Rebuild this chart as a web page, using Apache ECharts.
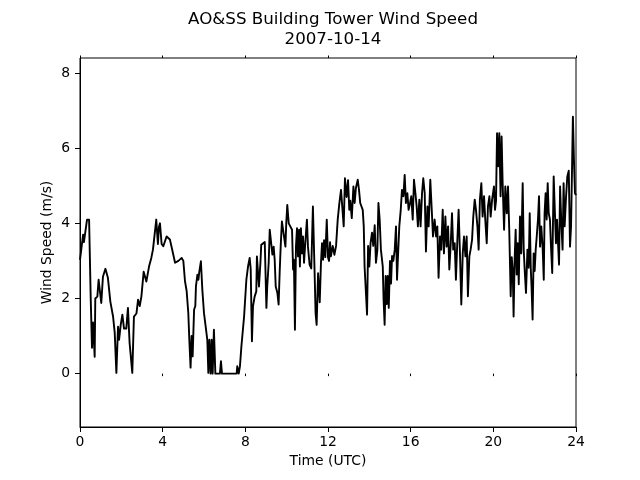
<!DOCTYPE html>
<html>
<head>
<meta charset="utf-8">
<script src="https://cdn.jsdelivr.net/npm/echarts@6/dist/echarts.min.js"></script>
<style>html,body{margin:0;padding:0;background:#fff}#c{width:640px;height:480px}</style>
</head>
<body>
<div id="c"></div>
<script>
const chartTitle = 'AO&SS Building Tower Wind Speed\n2007-10-14';
const xLabel = 'Time (UTC)';
const yLabel = 'Wind Speed (m/s)';
const xTicks = [0, 4, 8, 12, 16, 20, 24];
const yTicks = [0, 2, 4, 6, 8];

const times = [
0.00,0.15,0.19,0.34,0.44,0.52,0.58,0.63,0.71,0.74,0.84,0.90,0.97,1.03,1.11,1.23,1.35,1.47,1.60,1.68,
1.76,1.84,1.89,1.97,2.05,2.13,2.24,2.32,2.40,2.53,2.61,2.73,2.81,2.89,2.97,3.08,3.21,3.34,3.45,3.53,
3.61,3.69,3.77,3.82,3.87,3.95,4.03,4.11,4.19,4.27,4.35,4.44,4.52,4.60,4.68,4.76,4.84,4.92,5.00,5.08,
5.16,5.24,5.29,5.35,5.40,5.45,5.52,5.58,5.61,5.68,5.73,5.77,5.85,5.92,6.00,6.08,6.16,6.21,6.26,6.32,
6.37,6.42,6.48,6.55,6.77,6.82,6.87,7.58,7.61,7.68,7.74,7.81,7.87,7.94,8.05,8.13,8.21,8.26,8.32,8.37,
8.45,8.53,8.56,8.61,8.66,8.73,8.77,8.85,8.94,9.02,9.06,9.13,9.18,9.26,9.31,9.37,9.42,9.47,9.55,9.61,
9.66,9.71,9.77,9.85,9.94,9.98,10.03,10.10,10.18,10.26,10.31,10.35,10.40,10.45,10.50,10.55,10.60,10.64,10.69,10.74,
10.79,10.84,10.90,10.98,11.03,11.11,11.19,11.27,11.34,11.40,11.45,11.52,11.60,11.66,11.71,11.76,11.81,11.87,11.94,12.00,
12.05,12.10,12.14,12.23,12.31,12.39,12.47,12.55,12.63,12.71,12.76,12.82,12.90,12.97,13.03,13.08,13.15,13.23,13.29,13.35,
13.44,13.50,13.56,13.63,13.68,13.73,13.77,13.82,13.89,13.94,14.00,14.06,14.13,14.19,14.26,14.32,14.39,14.44,14.50,14.56,
14.65,14.69,14.74,14.79,14.84,14.89,14.94,15.00,15.05,15.10,15.16,15.23,15.29,15.34,15.40,15.45,15.52,15.58,15.65,15.71,
15.77,15.84,15.90,15.97,16.03,16.10,16.16,16.23,16.29,16.35,16.42,16.48,16.55,16.61,16.68,16.74,16.81,16.87,16.95,17.02,
17.08,17.16,17.23,17.29,17.35,17.42,17.48,17.55,17.61,17.68,17.74,17.81,17.87,17.94,18.00,18.06,18.13,18.19,18.26,18.32,
18.39,18.45,18.52,18.58,18.65,18.71,18.77,18.84,18.90,18.97,19.03,19.10,19.16,19.23,19.29,19.35,19.42,19.48,19.55,19.61,
19.68,19.74,19.81,19.87,19.94,20.03,20.08,20.13,20.18,20.24,20.29,20.35,20.40,20.45,20.52,20.58,20.65,20.71,20.77,20.84,
20.89,20.94,20.98,21.03,21.08,21.13,21.18,21.23,21.29,21.35,21.42,21.47,21.52,21.58,21.65,21.71,21.76,21.81,21.85,21.90,
21.95,22.00,22.05,22.10,22.16,22.21,22.26,22.32,22.39,22.44,22.48,22.53,22.58,22.63,22.68,22.74,22.79,22.85,22.92,22.98,
23.03,23.08,23.13,23.18,23.23,23.29,23.35,23.40,23.45,23.52,23.58,23.65,23.71,23.76,23.81,23.85,23.90,23.95,24.00
];

const speeds = [
3.03,3.70,3.50,4.10,4.10,1.97,0.69,1.36,0.45,2.00,2.05,2.50,2.55,1.88,2.58,2.79,2.55,1.91,1.52,1.09,
0.02,1.25,0.90,1.30,1.57,1.20,1.20,1.75,0.82,0.02,1.52,1.60,1.97,1.80,2.05,2.71,2.45,2.85,3.08,3.30,
3.35,4.10,3.45,3.90,4.00,3.45,3.39,3.35,3.65,3.70,3.57,3.35,3.30,2.95,2.95,3.00,3.03,3.08,3.00,2.46,
2.20,1.62,0.90,0.16,1.00,0.46,1.70,1.80,2.32,2.63,2.50,2.70,2.99,2.23,1.61,1.26,0.90,0.02,0.90,0.00,
0.90,0.00,1.17,0.00,0.00,0.33,0.00,0.00,0.20,0.00,0.20,0.73,0.73,1.52,2.50,2.85,3.08,2.78,0.86,1.79,
2.05,2.19,3.12,3.10,2.32,2.95,3.43,3.47,3.50,1.75,2.32,2.95,3.83,3.83,3.17,3.38,3.03,2.32,2.15,1.84,
2.67,3.38,4.05,4.00,3.38,4.00,4.49,4.00,4.05,3.83,2.77,3.03,1.17,3.38,3.87,3.12,3.83,2.85,3.87,3.20,
3.65,2.95,3.47,4.10,3.38,2.90,2.80,4.45,2.95,1.60,1.30,2.67,1.90,2.95,3.47,3.03,3.55,3.10,4.10,3.10,
3.00,3.50,3.12,3.40,3.16,3.40,4.10,4.54,4.89,4.85,3.92,5.20,4.70,5.15,4.36,4.60,4.14,4.98,4.54,4.94,
5.16,4.89,4.54,4.58,4.36,3.92,2.85,2.85,1.57,3.40,2.85,3.48,3.75,3.40,3.95,2.95,3.30,4.54,4.10,3.30,
2.85,1.97,1.30,2.60,1.85,2.60,1.75,3.00,2.40,3.13,3.00,3.30,3.92,2.50,3.30,3.92,4.36,4.89,4.72,5.29,
4.54,4.80,4.36,4.54,4.72,4.10,5.16,4.80,4.45,3.92,4.63,3.92,4.80,5.20,4.80,3.25,4.45,3.92,5.16,4.36,
3.65,4.10,3.65,3.92,2.55,3.65,3.30,4.36,3.20,4.18,3.38,3.92,2.77,3.47,4.27,3.30,3.47,2.50,3.56,4.36,
3.12,1.84,3.20,3.65,3.12,3.65,2.06,3.12,3.30,3.56,4.18,4.63,4.36,3.92,3.30,4.63,5.07,4.18,4.72,4.10,
3.47,4.45,4.72,4.18,4.63,4.98,4.36,4.60,6.40,5.52,6.40,4.72,6.31,5.07,3.83,4.98,4.27,4.98,3.83,2.06,
3.10,2.73,1.52,3.03,3.83,2.64,3.47,2.38,4.18,3.20,5.07,3.30,2.73,2.15,3.30,2.82,4.27,2.82,2.30,1.44,
3.20,2.73,3.30,3.65,4.10,4.72,3.38,3.92,3.30,2.50,4.27,4.80,4.10,5.07,4.27,4.10,3.38,2.68,5.25,4.27,
3.47,4.10,3.47,2.90,4.98,4.00,3.30,5.07,3.92,4.72,5.25,5.40,3.38,3.92,5.52,6.84,5.70,4.80,4.75
];

const seriesData = times.map((t, i) => [t, speeds[i]]);
const FONT = 'DejaVu Sans';
const chart = echarts.init(document.getElementById('c'), null, {renderer: 'canvas'});

const topAxisBase = {
  type: 'value', position: 'top', min: 0, max: 24, interval: 4,
  axisLine: {show: false}, axisLabel: {show: false}, splitLine: {show: false}
};

chart.setOption({
  animation: false,
  backgroundColor: '#ffffff',
  title: {
    text: chartTitle,
    left: 328, top: 5, textAlign: 'center',
    textStyle: {fontFamily: FONT, fontSize: 16.7, fontWeight: 'normal', color: '#000', lineHeight: 20}
  },
  grid: {left: 80, right: 64, top: 58, bottom: 53, show: true, borderColor: '#000', borderWidth: 1, backgroundColor: 'transparent'},
  xAxis: [
    {
      type: 'value', min: 0, max: 24, interval: 4,
      name: xLabel, nameLocation: 'middle', nameGap: 27, nameMoveOverlap: false,
      nameTextStyle: {fontFamily: FONT, fontSize: 13.9, color: '#000'},
      axisLine: {show: true, onZero: false, lineStyle: {color: '#000', width: 1}},
      axisTick: {show: true, inside: false, length: 5, lineStyle: {color: '#000', width: 1}},
      axisLabel: {show: true, margin: 8, fontFamily: FONT, fontSize: 13.9, color: '#000',
        customValues: xTicks, formatter: v => String(v)},
      splitLine: {show: false}
    },
    Object.assign({}, topAxisBase, {axisTick: {show: true, inside: true, length: 2.5, lineStyle: {color: '#000', width: 1}}}),
    Object.assign({}, topAxisBase, {axisTick: {show: true, inside: false, length: 2.5, lineStyle: {color: '#000', width: 1}}})
  ],
  yAxis: {
    type: 'value', min: -1.42, max: 8.4,
    name: yLabel, nameLocation: 'middle', nameGap: 26, nameRotate: 90, nameMoveOverlap: false,
    nameTextStyle: {fontFamily: FONT, fontSize: 13.9, color: '#000'},
    axisLine: {show: true, onZero: false, lineStyle: {color: '#000', width: 1}},
    axisTick: {show: true, inside: false, length: 5, customValues: yTicks, lineStyle: {color: '#000', width: 1}},
    axisLabel: {show: true, margin: 10, fontFamily: FONT, fontSize: 13.9, color: '#000',
      customValues: yTicks, formatter: v => String(v)},
    splitLine: {show: false}
  },
  series: [{
    type: 'line', xAxisIndex: 0, yAxisIndex: 0,
    data: seriesData, showSymbol: false, symbol: 'none',
    lineStyle: {color: '#000', width: 1.9, join: 'round'},
    clip: true
  }]
});
</script>
</body>
</html>
